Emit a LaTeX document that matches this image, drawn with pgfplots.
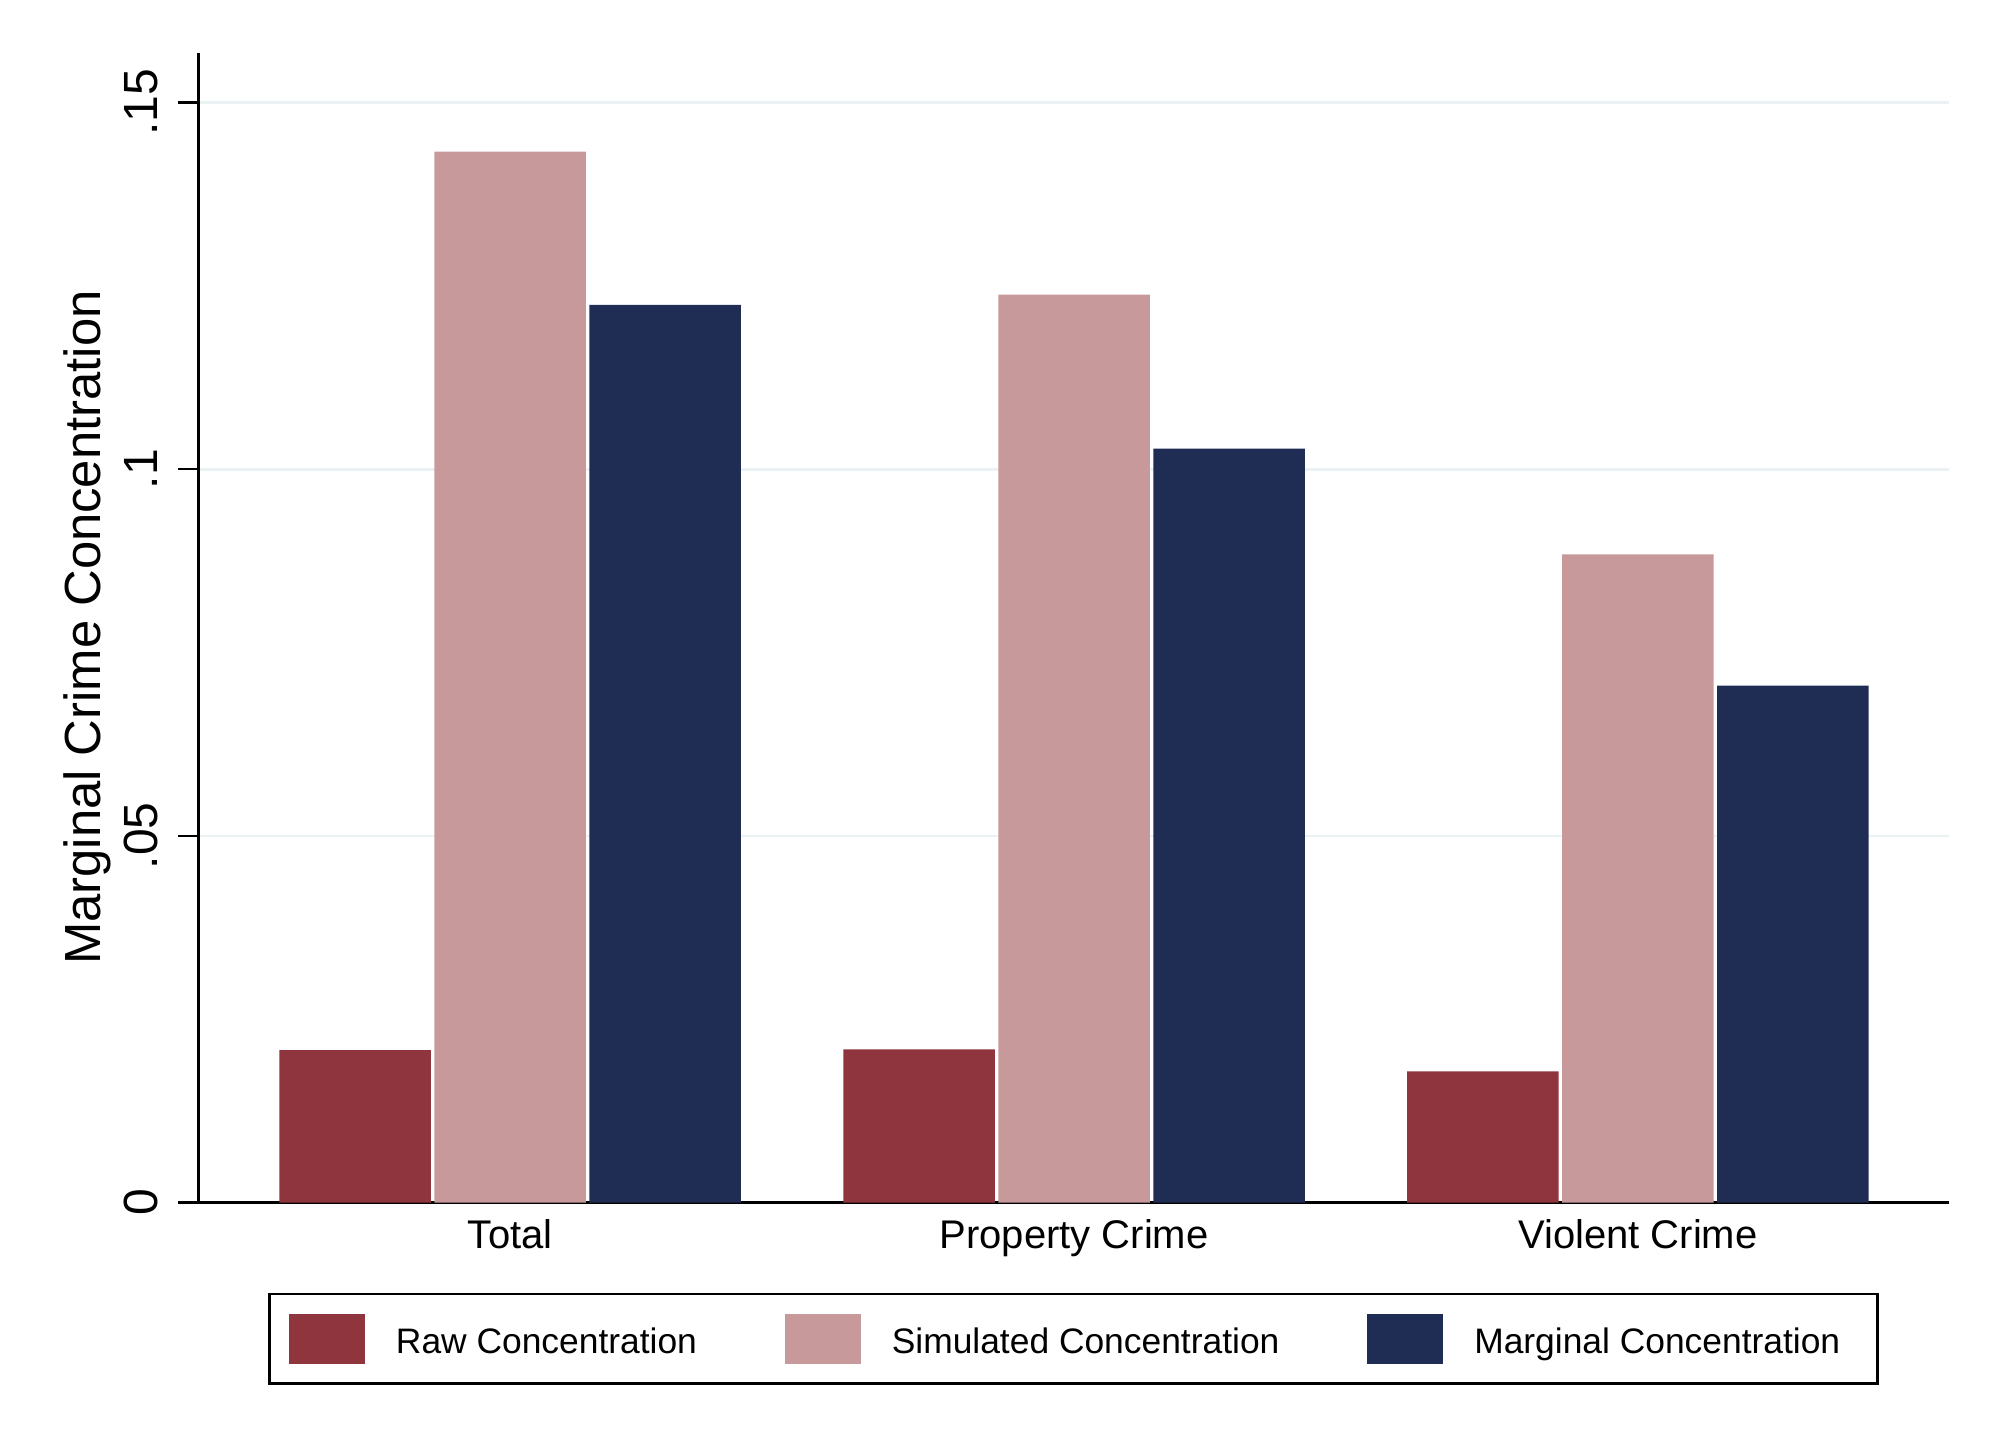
\documentclass[border=0pt]{standalone}
\usepackage{pgfplots}
\pgfplotsset{compat=1.18}
\usepackage{fontspec}
\setmainfont{Liberation Sans}
\definecolor{rawc}{RGB}{142,53,61}
\definecolor{simc}{RGB}{200,153,155}
\definecolor{margc}{RGB}{31,45,84}
\definecolor{gridc}{RGB}{234,242,243}
\pgfplotsset{swatch/.style={legend image code/.code={\fill[##1] (0pt,-4.8pt) rectangle (19pt,7.7pt);}}}
\begin{document}
\begin{tikzpicture}
\useasboundingbox (-49.6pt,-63.1pt) rectangle (450.4pt,300.65pt);
\begin{axis}[
  at={(0,0)}, anchor=south west,
  scale only axis, width=437.55pt, height=287.5pt,
  xmin=-0.553, xmax=2.551, ymin=0, ymax=0.1568,
  ybar=0.875pt, bar width=37.875pt,
  axis x line=bottom, axis y line=left,
  axis line style={-, line width=0.6pt, black},
  xtick={0,1,2}, xticklabels={Total,Property Crime,Violent Crime},
  ytick={0,0.05,0.1,0.15}, yticklabels={0,.05,.1,.15},
  tick align=outside, major tick length=5pt,
  xtick style={draw=none},
  ytick style={line width=0.6pt, black},
  ymajorgrids=true,
  major grid style={gridc, line width=0.67pt},
  xticklabel style={font=\fontsize{10}{12}\selectfont, anchor=base, inner sep=0pt, yshift=-6.4pt},
  yticklabel style={font=\fontsize{12}{14}\selectfont, xshift=-5.3pt, rotate=90, anchor=base, inner sep=0pt},
  ylabel={Marginal Crime Concentration},
  every axis y label/.style={at={([xshift=-24.4pt]axis description cs:0,0.5)}, rotate=90, anchor=base, inner sep=0pt, font=\fontsize{12.7}{15}\selectfont},
  legend columns=3,
  legend style={at={(0.5,0)}, anchor=north, yshift=-22.5pt, draw=black, line width=0.6pt,
    inner xsep=4.9pt, inner ysep=4.95pt, font=\fontsize{8.85}{10}\selectfont,
    /tikz/every even column/.append style={column sep=22pt},
    /tikz/every odd column/.append style={column sep=7.7pt},
    nodes={inner sep=0pt, text height=6.5pt, text depth=2pt}},
  legend cell align=left,
]
\addplot[fill=rawc, draw=none, swatch] coordinates {(0,0.0208) (1,0.0209) (2,0.0179)};
\addplot[fill=simc, draw=none, swatch] coordinates {(0,0.1433) (1,0.1238) (2,0.0884)};
\addplot[fill=margc, draw=none, swatch] coordinates {(0,0.1224) (1,0.1028) (2,0.0705)};
\legend{Raw Concentration, Simulated Concentration, Marginal Concentration\hspace*{4.4pt}\mbox{}}
\end{axis}
\end{tikzpicture}
\end{document}
